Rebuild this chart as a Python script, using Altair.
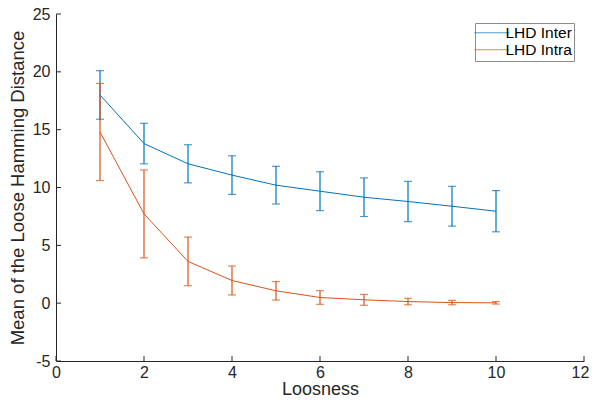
import altair as alt
import pandas as pd

loosness = [1, 2, 3, 4, 5, 6, 7, 8, 9, 10]
inter_mean = [18.0, 13.8, 12.05, 11.07, 10.2, 9.68, 9.16, 8.79, 8.38, 7.95]
inter_err = [2.1, 1.75, 1.65, 1.67, 1.63, 1.68, 1.67, 1.74, 1.72, 1.78]
intra_mean = [14.8, 7.72, 3.61, 1.96, 1.07, 0.49, 0.29, 0.14, 0.05, 0.03]
intra_err = [4.2, 3.8, 2.1, 1.25, 0.8, 0.59, 0.47, 0.28, 0.19, 0.11]
series_names = ["LHD Inter", "LHD Intra"]
series_colors = ["#0072BD", "#D95319"]
x_ticks = [0, 2, 4, 6, 8, 10, 12]
y_ticks = [-5, 0, 5, 10, 15, 20, 25]

rows = []
for name, means, errs in [(series_names[0], inter_mean, inter_err),
                          (series_names[1], intra_mean, intra_err)]:
    for x, m, e in zip(loosness, means, errs):
        rows.append({"Loosness": x, "mean": m, "lo": m - e, "hi": m + e, "series": name})
df = pd.DataFrame(rows)

W, H = 528, 347
FONT = "Liberation Sans"
INK = "#262626"
xs = alt.Scale(domain=[0, 12], nice=False, zero=False)
ys = alt.Scale(domain=[-5, 25], nice=False, zero=False)
cscale = alt.Scale(domain=series_names, range=series_colors)
xaxis = alt.Axis(values=x_ticks, title="Loosness", labelPadding=3, titlePadding=0,
                 titleFontSize=18, labelExpr="'' + datum.value",
                 labelOffset={"condition": {"test": "datum.value == 12", "value": -4}, "value": 0})
yaxis = alt.Axis(values=y_ticks, title="Mean of the Loose Hamming Distance",
                 labelPadding=6, titlePadding=5, labelExpr="'' + datum.value")
legend = alt.Legend(title=None, orient="none", legendX=419, legendY=9,
                    labelFont=FONT, labelFontSize=15.5, labelColor="#000000",
                    symbolType="M-3.5,0H3.5", symbolSize=100, symbolStrokeWidth=1,
                    fillColor="white", strokeColor="#8c8c8c", padding=2, rowPadding=0,
                    labelOffset=6, symbolOffset=7)

def X(f):
    return alt.X(f, scale=xs, axis=xaxis)

def Y(f):
    return alt.Y(f, scale=ys, axis=yaxis)

def C():
    return alt.Color("series:N", scale=cscale, legend=legend)

base = alt.Chart(df)

line = base.mark_line(strokeWidth=1).encode(x=X("Loosness:Q"), y=Y("mean:Q"), color=C())
bars = base.mark_rule(strokeWidth=1.2).encode(x=X("Loosness:Q"), y=Y("lo:Q"), y2="hi:Q", color=C())
cap_lo = base.mark_tick(orient="horizontal", size=8, thickness=1.2).encode(
    x=X("Loosness:Q"), y=Y("lo:Q"), color=C())
cap_hi = base.mark_tick(orient="horizontal", size=8, thickness=1.2).encode(
    x=X("Loosness:Q"), y=Y("hi:Q"), color=C())

ytick = alt.Chart(pd.DataFrame({"v": y_ticks})).mark_rule(color=INK, strokeWidth=1).encode(
    y=Y("v:Q"), x=alt.value(0), x2=alt.value(5))
xtick = alt.Chart(pd.DataFrame({"v": x_ticks})).mark_rule(color=INK, strokeWidth=1).encode(
    x=X("v:Q"), y=alt.value(H), y2=alt.value(H - 5))

chart = alt.layer(bars, cap_lo, cap_hi, line, ytick, xtick).properties(
    width=W, height=H,
    autosize=alt.AutoSizeParams(type="none"),
    padding={"left": 48, "top": 6, "right": 5, "bottom": 36},
).configure_view(stroke=None).configure_axis(
    grid=False, ticks=False, tickSize=0, domainColor=INK, domainWidth=1,
    labelFont=FONT, labelFontSize=16, labelColor=INK, labelFlush=False, labelOverlap=False,
    titleFont=FONT, titleFontSize=18.5, titleFontWeight="normal", titleColor=INK,
)

chart.save("out.html", embed_options={"renderer": "svg", "actions": False})
